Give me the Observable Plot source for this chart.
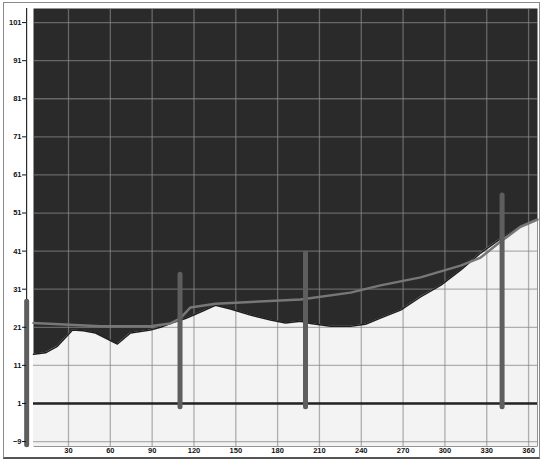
<!DOCTYPE html>
<html><head><meta charset="utf-8">
<script src="https://cdn.jsdelivr.net/npm/d3@7"></script>
<script src="https://cdn.jsdelivr.net/npm/@observablehq/plot@0.6"></script>
<style>
html,body{margin:0;padding:0;background:#fff;}
#wrap{position:relative;width:543px;height:461px;overflow:hidden;}
#border{position:absolute;left:3px;top:2px;width:535px;height:454px;border:1.5px solid #8a8a8a;border-bottom:2px solid #555;pointer-events:none;}
#chart svg text{font-weight:bold !important;}
</style></head><body>
<div id="wrap"><div id="chart"></div><div id="border"></div></div>
<script>
// terrain profile (dark above, light below)
const profileX = [4.9, 13.5, 22, 32.9, 40.7, 49.4, 65.1, 74.5, 88.8, 96, 104.5, 113.9, 124.7, 135.4, 146.2, 160.5, 174.9, 185.7, 196.4, 203.6, 217.9, 232.3, 243, 253.8, 268.2, 282.5, 296.9, 311.2, 325.6, 340, 354.2, 366.4];
const profileY = [13.9, 14.3, 16, 20.3, 20.1, 19.5, 16.6, 19.5, 20.3, 21, 22.2, 23.3, 25, 26.8, 25.8, 24.2, 22.9, 22.1, 22.6, 22, 21.3, 21.3, 21.8, 23.4, 25.5, 29, 32, 36, 40.5, 44.3, 47.4, 49.3];
// gray trend line
const trendX = [4.9, 53, 88.8, 103, 110, 117.5, 135.4, 196.4, 232.3, 253.8, 282.5, 311.2, 325.6, 340, 354.2, 366.4];
const trendY = [22.1, 21.3, 21.3, 22, 23.3, 26.2, 27.2, 28.3, 30.1, 32, 34.1, 37.2, 39.3, 43.5, 47.4, 49.3];
// vertical bars
const barX = [0, 110, 200, 341];
const barLow = [-10, 0, 0, 0];
const barHigh = [27.7, 34.8, 40.4, 55.6];
// ticks
const xTicks = [30, 60, 90, 120, 150, 180, 210, 240, 270, 300, 330, 360];
const yTicks = [-9, 1, 11, 21, 31, 41, 51, 61, 71, 81, 91, 101];
const xDomain = [4.9, 366.4];
const yDomain = [-10.3, 104.7];

const profile = profileX.map((x, i) => ({x, y: profileY[i]}));
const trend = trendX.map((x, i) => ({x, y: trendY[i]}));
const bars = barX.map((x, i) => ({x, y1: barLow[i], y2: barHigh[i]}));

const chart = Plot.plot({
  width: 543, height: 461,
  marginLeft: 33, marginRight: 6, marginTop: 8, marginBottom: 15,
  x: {domain: xDomain, label: null},
  y: {domain: yDomain, label: null},
  style: {fontFamily: "Liberation Sans", fontSize: "7.5px", fontWeight: "bold", background: "transparent", color: "#111"},
  marks: [
    Plot.frame({fill: "#2a2a2a", stroke: null}),
    Plot.areaY(profile, {x: "x", y1: () => yDomain[0], y2: "y", fill: "#f3f3f3"}),
    Plot.gridX(xTicks, {stroke: "#888", strokeOpacity: 0.65, strokeWidth: 1.3}),
    Plot.gridY(yTicks, {stroke: "#888", strokeOpacity: 0.65, strokeWidth: 1.3}),
    Plot.line(profile, {x: "x", y: "y", stroke: "#1e1e1e", strokeWidth: 1.5}),
    Plot.line(trend, {x: "x", y: "y", stroke: "#777", strokeWidth: 2.5}),
    Plot.ruleY([1], {stroke: "#222", strokeWidth: 2.5}),
    Plot.ruleX([0], {stroke: "#000", strokeWidth: 1}),
    Plot.ruleX(bars, {x: "x", y1: "y1", y2: "y2", stroke: "#5e5e5e", strokeWidth: 5, strokeLinecap: "round"}),
    Plot.axisX(xTicks, {tickSize: 0, tickPadding: 1, label: null, fontWeight: "bold"}),
    Plot.axisY(yTicks, {dx: -7, tickSize: 4, tickPadding: 1, label: null, fontWeight: "bold"})
  ]
});
document.getElementById("chart").appendChild(chart);
</script>
</body></html>
